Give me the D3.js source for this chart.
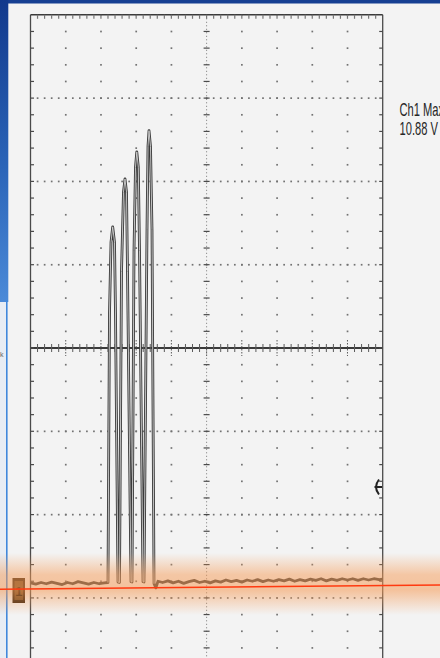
<!DOCTYPE html>
<html>
<head>
<meta charset="utf-8">
<script src="https://cdn.jsdelivr.net/npm/d3@7"></script>
<style>
body { margin: 0; background: #f3f3f3; }
svg { display: block; }
</style>
</head>
<body>
<script>
// scope trace, time in divisions (10 div across), volts at 2 V/div
var traceTime = [0, 0.15, 0.3, 0.45, 0.6, 0.75, 0.9, 1.05, 1.2, 1.35, 1.5, 1.65, 1.8, 1.95, 2.1,
    2.200, 2.243, 2.286, 2.334, 2.385, 2.413, 2.484,
    2.527, 2.584, 2.640, 2.683, 2.726, 2.754, 2.853,
    2.882, 2.939, 2.981, 3.018, 3.061, 3.095, 3.194,
    3.223, 3.308, 3.336, 3.365, 3.407, 3.450, 3.507,
    3.56, 3.62, 3.75, 3.9, 4.05, 4.2, 4.35, 4.5, 4.65, 4.8, 4.95, 5.1, 5.25, 5.4, 5.55, 5.7, 5.85,
    6.0, 6.15, 6.3, 6.45, 6.6, 6.75, 6.9, 7.05, 7.2, 7.35, 7.5, 7.65, 7.8, 7.95, 8.1, 8.25, 8.4,
    8.55, 8.7, 8.85, 9.0, 9.15, 9.3, 9.45, 9.6, 9.75, 9.9, 10];
var traceVolts = [0.02, -0.01, 0.03, 0.0, 0.04, 0.01, -0.02, 0.03, 0.0, 0.05, 0.02, -0.01, 0.03, 0.0, 0.02,
    0.03, 6.5, 8.2, 8.57, 8.2, 6.5, 0.04,
    0.03, 7.5, 9.4, 9.72, 9.4, 7.5, 0.05,
    0.04, 8.0, 10.0, 10.37, 10.0, 8.0, 0.05,
    0.04, 8.5, 10.5, 10.88, 10.5, 8.5, 0.0,
    -0.1, 0.06, 0.03, 0.07, 0.02, 0.06, 0.01, 0.05, 0.08, 0.03, 0.06, 0.02, 0.07, 0.04, 0.09, 0.05, 0.08,
    0.04, 0.09, 0.06, 0.1, 0.05, 0.09, 0.06, 0.1, 0.07, 0.11, 0.06, 0.1, 0.07, 0.11, 0.08, 0.12, 0.07,
    0.11, 0.08, 0.12, 0.09, 0.12, 0.08, 0.12, 0.09, 0.12, 0.1, 0.11];
var measLabels = ["Ch1 Max", "10.88 V"];
var groundDiv = -2.83;   // channel 1 ground marker, divisions from centre
var voltsPerDiv = 2;

var W = 440, H = 658;
var svg = d3.select("body").append("svg").attr("width", W).attr("height", H);
var defs = svg.append("defs");

var gBlue = defs.append("linearGradient").attr("id", "blue").attr("x1", 0).attr("x2", 0).attr("y1", 0).attr("y2", 1);
gBlue.append("stop").attr("offset", "0%").attr("stop-color", "#12398c");
gBlue.append("stop").attr("offset", "55%").attr("stop-color", "#2a64b8");
gBlue.append("stop").attr("offset", "100%").attr("stop-color", "#4b8ad8");

var gGlow = defs.append("linearGradient").attr("id", "glow").attr("x1", 0).attr("x2", 0).attr("y1", 0).attr("y2", 1);
gGlow.append("stop").attr("offset", "0%").attr("stop-color", "#f59a55").attr("stop-opacity", 0);
gGlow.append("stop").attr("offset", "35%").attr("stop-color", "#f59a55").attr("stop-opacity", 0.5);
gGlow.append("stop").attr("offset", "60%").attr("stop-color", "#f59a55").attr("stop-opacity", 0.55);
gGlow.append("stop").attr("offset", "100%").attr("stop-color", "#f59a55").attr("stop-opacity", 0);

// slide background bits
svg.append("rect").attr("width", W).attr("height", H).attr("fill", "#f3f3f3");
svg.append("rect").attr("width", W).attr("height", 3.5).attr("fill", "#163f92");
svg.append("rect").attr("width", 8.3).attr("height", 302).attr("fill", "url(#blue)");
svg.append("rect").attr("y", 302).attr("width", 6).attr("height", H - 302).attr("fill", "#e8edf4");
svg.append("line").attr("x1", 6.8).attr("x2", 6.8).attr("y1", 300).attr("y2", H)
    .attr("stroke", "#4188dc").attr("stroke-width", 1.6);
svg.append("text").attr("x", 0).attr("y", 357).attr("font-size", 7)
    .attr("font-family", "Liberation Sans, sans-serif").attr("fill", "#666").text("k");

// scales
var x = d3.scaleLinear().domain([0, 10]).range([30.5, 382.7]);
var yDiv = d3.scaleLinear().domain([-4, 4]).range([681.2, 14.8]);
var yV = function(v) { return yDiv(groundDiv + v / voltsPerDiv); };

var grid = svg.append("g").attr("fill", "#727272");
var gridStroke = "#4a4a4a";

// dotted horizontal lines
d3.range(-3, 4).forEach(function(d) {
    if (d === 0) return;
    grid.selectAll(null).data(d3.range(1, 50)).enter().append("rect")
        .attr("x", function(i) { return x(i * 0.2) - 0.8; })
        .attr("y", yDiv(d) - 0.8).attr("width", 1.7).attr("height", 1.7);
});
// dotted vertical lines
d3.range(1, 10).forEach(function(d) {
    if (d === 5) return;
    grid.selectAll(null).data(d3.range(-19, 40)).enter().append("rect")
        .attr("x", x(d) - 0.8)
        .attr("y", function(i) { return yDiv(i * 0.2) - 0.8; })
        .attr("width", 1.7).attr("height", 1.7);
});

// centre vertical axis
svg.append("line").attr("x1", x(5)).attr("x2", x(5)).attr("y1", yDiv(4)).attr("y2", H)
    .attr("stroke", "#777").attr("stroke-width", 1).attr("stroke-dasharray", "1,2.5");
svg.selectAll(null).data(d3.range(-19, 20)).enter().append("line")
    .attr("x1", x(5) - 3).attr("x2", x(5) + 3)
    .attr("y1", function(i) { return yDiv(i * 0.2); })
    .attr("y2", function(i) { return yDiv(i * 0.2); })
    .attr("stroke", gridStroke).attr("stroke-width", 1.2);

// centre horizontal axis
svg.append("line").attr("x1", x(0)).attr("x2", x(10)).attr("y1", yDiv(0)).attr("y2", yDiv(0))
    .attr("stroke", "#3a3a3a").attr("stroke-width", 2);
svg.selectAll(null).data(d3.range(1, 50)).enter().append("line")
    .attr("x1", function(i) { return x(i * 0.2); })
    .attr("x2", function(i) { return x(i * 0.2); })
    .attr("y1", function(i) { return yDiv(0) - (i % 5 === 0 ? 8 : 4); })
    .attr("y2", function(i) { return yDiv(0) + (i % 5 === 0 ? 8 : 4); })
    .attr("stroke", "#5a5a5a").attr("stroke-width", 1)
    .attr("stroke-dasharray", function(i) { return i % 5 === 0 ? "1.5,1.5" : null; });

// frame with minor ticks
svg.append("line").attr("x1", x(0)).attr("x2", x(0)).attr("y1", yDiv(4)).attr("y2", H)
    .attr("stroke", gridStroke).attr("stroke-width", 1.3);
svg.append("line").attr("x1", x(10)).attr("x2", x(10)).attr("y1", yDiv(4)).attr("y2", H)
    .attr("stroke", gridStroke).attr("stroke-width", 1.3);
svg.append("line").attr("x1", x(0)).attr("x2", x(10)).attr("y1", yDiv(4)).attr("y2", yDiv(4))
    .attr("stroke", "#3a3a3a").attr("stroke-width", 1.6);
svg.selectAll(null).data(d3.range(1, 50)).enter().append("line")
    .attr("x1", function(i) { return x(i * 0.2); })
    .attr("x2", function(i) { return x(i * 0.2); })
    .attr("y1", yDiv(4)).attr("y2", yDiv(4) + 4)
    .attr("stroke", "#777").attr("stroke-width", 1.2);
[0, 10].forEach(function(side) {
    var dir = side === 0 ? 1 : -1;
    svg.selectAll(null).data(d3.range(-19, 20)).enter().append("line")
        .attr("x1", x(side)).attr("x2", x(side) + dir * 3.5)
        .attr("y1", function(i) { return yDiv(i * 0.2); })
        .attr("y2", function(i) { return yDiv(i * 0.2); })
        .attr("stroke", gridStroke).attr("stroke-width", 1.2);
});

// trace: dark outline, pulses get a pale core so their edges read as double lines
var pts = traceTime.map(function(t, i) { return [t, traceVolts[i]]; });
var line = d3.line()
    .x(function(d) { return x(d[0]); })
    .y(function(d) { return yV(d[1]); })
    .curve(d3.curveLinear);
svg.append("path").datum(pts).attr("d", line).attr("fill", "none")
    .attr("stroke", "#3a3a3a").attr("stroke-width", 2.8).attr("stroke-linejoin", "round");
svg.append("path").datum(pts.filter(function(d) { return d[0] >= 2.2 && d[0] <= 3.51; }))
    .attr("d", line).attr("fill", "none")
    .attr("stroke", "#d2d2d2").attr("stroke-width", 0.9).attr("stroke-linejoin", "round");

// trigger level marker
var trig = svg.append("g").attr("fill", "none").attr("stroke", "#222").attr("stroke-width", 2);
trig.append("path").attr("d", "M379,479.5 Q373,487 379,494.5");
trig.append("line").attr("x1", 374.5).attr("x2", 382).attr("y1", 487).attr("y2", 487);

// ground marker "1"
svg.append("rect").attr("x", 12.5).attr("y", 578).attr("width", 12.5).attr("height", 25)
    .attr("fill", "#3a2410");
svg.append("rect").attr("x", 14.5).attr("y", 581).attr("width", 8.5).attr("height", 19)
    .attr("fill", "#6e4a26");
svg.append("text").attr("x", 18.8).attr("y", 596).attr("text-anchor", "middle")
    .attr("font-family", "Liberation Sans, sans-serif").attr("font-weight", "bold")
    .attr("font-size", 13).attr("fill", "#241505").text("1");

// measurement readout (cut by the right edge, as in the slide)
svg.selectAll(null).data(measLabels).enter().append("text")
    .attr("transform", function(d, i) { return "translate(399.5," + (115.5 + i * 19.5) + ") scale(0.62,1)"; })
    .attr("font-family", "Liberation Sans, Arial, sans-serif")
    .attr("font-size", 18).attr("fill", "#262626").text(function(d) { return d; });

// highlight band and red line
svg.append("rect").attr("x", 0).attr("y", 553).attr("width", W).attr("height", 62)
    .attr("fill", "url(#glow)");
svg.append("line").attr("x1", 0).attr("x2", W).attr("y1", 589.2).attr("y2", 585)
    .attr("stroke", "#ff3a10").attr("stroke-width", 1.6);
</script>
</body>
</html>
